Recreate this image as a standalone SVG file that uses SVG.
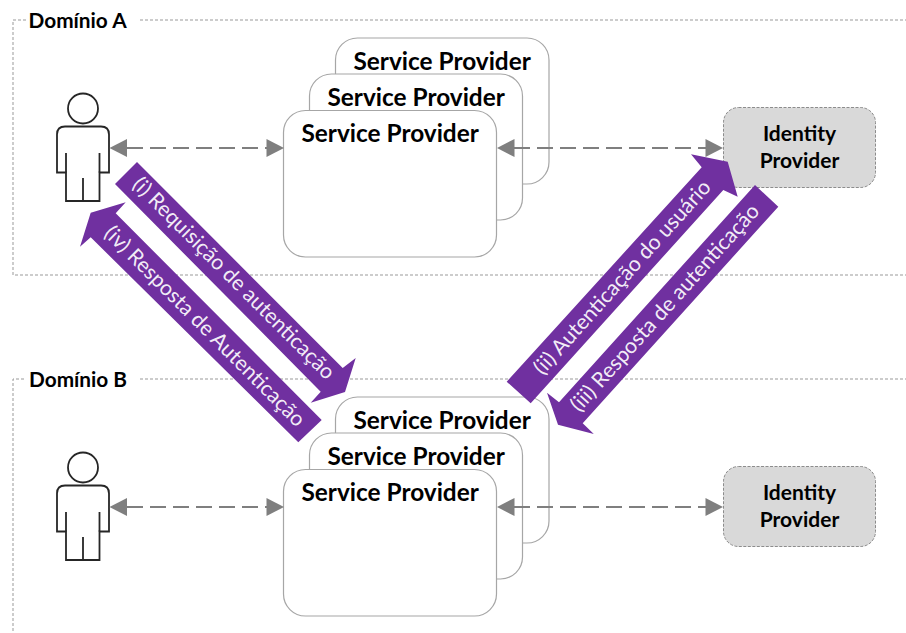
<svg xmlns="http://www.w3.org/2000/svg" width="906" height="633" viewBox="0 0 906 633">
<defs>
<style>
text{font-family:"Lato","Open Sans","Liberation Sans",sans-serif}
.frame{fill:none;stroke:#999;stroke-width:1;stroke-dasharray:3 2}
.sp{fill:#fff;stroke:#a6a6a6;stroke-width:1.2}
.spt{font-size:24.400px;font-weight:700;fill:#000}
.dom{font-size:20.800px;font-weight:700;fill:#000}
.idp{fill:#d9d9d9;stroke:#8c8c8c;stroke-width:1;stroke-dasharray:3 1.5}
.idt{font-size:21px;font-weight:700;fill:#000;text-anchor:middle}
.pf{fill:#fff;stroke:#262626;stroke-width:1.800}
.pl{fill:none;stroke:#262626;stroke-width:1.800}
.dl{fill:none;stroke:#7f7f7f;stroke-width:2;stroke-dasharray:16 7}
.ah{fill:#7f7f7f}
.big{fill:#7030a0}
.bt{font-size:21.300px;fill:#fff;text-anchor:middle;fill-opacity:.92}
</style>
<g id="person-shape">
<circle class="pf" cx="83" cy="108.500" r="15"/>
<path class="pf" d="M65 126.500H101Q109 126.500 109 134.500V172.500H99.500V201H66V172.500H57V134.500Q57 126.500 65 126.500Z"/>
<path class="pl" d="M66 153V172.500M99.500 153V172.500M83 178V201"/>
</g>
<g id="sp-stack">
<rect class="sp" x="335.500" y="38" width="213.500" height="146" rx="22"/>
<text class="spt" x="353.500" y="69.500">Service Provider</text>
<rect class="sp" x="309.500" y="74" width="213" height="146" rx="22"/>
<text class="spt" x="327.500" y="105.500">Service Provider</text>
<rect class="sp" x="283.500" y="110.500" width="213" height="146.500" rx="22"/>
<text class="spt" x="301.500" y="142">Service Provider</text>
</g>
</defs>
<rect width="906" height="633" fill="#fff"/>
<g id="dominio-a">
<path class="frame" d="M26 20H13V275H906M140 20H906"/>
<text class="dom" x="28.500" y="27.500">Domínio A</text>
</g>
<g id="dominio-b">
<path class="frame" d="M24 379H13V633M140 379H906"/>
<text class="dom" x="29" y="386.500">Domínio B</text>
</g>
<g id="user-a"><use href="#person-shape"/></g>
<g id="user-b"><use href="#person-shape" y="359"/></g>
<g id="sp-a"><use href="#sp-stack"/></g>
<g id="sp-b"><use href="#sp-stack" y="359"/></g>
<g id="idp-a">
<rect class="idp" x="723.500" y="107.500" width="152" height="80" rx="15"/>
<text class="idt" x="799.500" y="141">Identity</text>
<text class="idt" x="799.500" y="168">Provider</text>
</g>
<g id="idp-b">
<rect class="idp" x="723.500" y="466.500" width="152" height="80" rx="15"/>
<text class="idt" x="799.500" y="500">Identity</text>
<text class="idt" x="799.500" y="527">Provider</text>
</g>
<g id="connectors">
<path class="dl" d="M127 148H268"/><path class="ah" d="M109.500 148L127 139V157Z"/><path class="ah" d="M284 148L266.500 139V157Z"/>
<path class="dl" d="M514 148H707"/><path class="ah" d="M497 148L514.500 139V157Z"/><path class="ah" d="M723 148L705.500 139V157Z"/>
<path class="dl" d="M127 507H268"/><path class="ah" d="M109.500 507L127 498V516Z"/><path class="ah" d="M284 507L266.500 498V516Z"/>
<path class="dl" d="M514 507H707"/><path class="ah" d="M497 507L514.500 498V516Z"/><path class="ah" d="M723 507L705.500 498V516Z"/>
<polygon class="big" points="137,162 115,184 320.700,391.700 310.700,402.700 345,392 355.700,358 342.700,368"/>
<polygon class="big" points="321.700,420 298.300,442.300 90.700,237.300 80,246.700 90.700,212.700 125.700,202.300 115.700,213.300"/>
<polygon class="big" points="506.700,381.700 530.700,403.300 723.300,190 737.700,196.700 727.700,161.700 691,154.300 701.700,167.300"/>
<polygon class="big" points="755,185 778.300,206.700 582.700,423.300 593.800,434 558,424.700 547,392.700 559,402.200"/>
<text class="bt" transform="translate(233,279) rotate(45)" y="6">(i) Requisição de autenticação</text>
<text class="bt" transform="translate(204,327) rotate(45)" y="6">(iv) Resposta de Autenticação</text>
<text class="bt" transform="translate(623,278) rotate(-48)" y="6">(ii) Autenticação do usuário</text>
<text class="bt" transform="translate(665.500,308.500) rotate(-48)" y="6">(iii) Resposta de autenticação</text>
</g>
</svg>
